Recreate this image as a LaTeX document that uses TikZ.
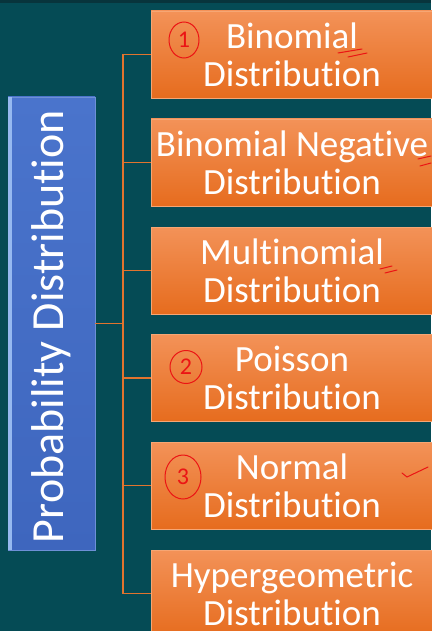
\documentclass[tikz,border=0pt]{standalone}
\usepackage{fontspec}
\setmainfont{Carlito}[Ligatures={NoCommon,NoRequired,NoContextual}]
\usetikzlibrary{shapes.geometric}
\definecolor{slidebg}{RGB}{5,75,85}
\definecolor{slidetop}{RGB}{8,52,60}
\definecolor{boxtop}{RGB}{243,146,88}
\definecolor{boxbot}{RGB}{230,108,30}
\definecolor{boxedge}{RGB}{246,166,116}
\definecolor{bluel}{RGB}{150,185,240}
\definecolor{bluefill}{RGB}{74,116,204}
\definecolor{bluebot}{RGB}{62,102,190}
\definecolor{linkcol}{RGB}{226,116,46}
\definecolor{penred}{RGB}{235,20,20}
% keeps t and i apart
\newcommand{\distword}{Distribut\kern0pt ion}
\begin{document}
\begin{tikzpicture}[x=1pt,y=-1pt,
    distbox/.style={rectangle,minimum width=282pt,minimum height=87pt,inner sep=0pt,
      top color=boxtop,bottom color=boxbot,draw=boxedge,line width=0.8pt,
      text=white,align=center,font=\fontsize{37}{38}\selectfont},
    link/.style={draw=linkcol,line width=1.5pt},
    note/.style={draw=penred,ellipse,line width=1pt,text=penred,inner sep=0pt,
      font=\fontsize{24}{24}\selectfont},
    pen/.style={draw=penred,line width=1pt,line cap=round}]
  % background
  \fill[slidebg] (0,0) rectangle (431,631);
  \fill[slidetop] (0,0) rectangle (431,3);
  \useasboundingbox (0,0) rectangle (431,631);

  \node[rectangle,minimum width=87pt,minimum height=453pt,inner sep=0pt,
    top color=bluefill,bottom color=bluebot,draw=bluefill!80!white,line width=0.8pt] (P) at (51.5,323.5) {};
  \fill[bluel] (P.north west) rectangle ([xshift=4pt]P.south west);
  \node[rotate=90,text=white,font=\fontsize{46}{46}\selectfont] at ([yshift=-3pt]P.center) {Probability \distword};

  \node[distbox] (A) at (292,54.5) {Binomial\\\distword};
  \node[distbox] (B) at (292,162.5) {Binomial Negative\\\distword};
  \node[distbox] (C) at (292,270.5) {Multinomial\\\distword};
  \node[distbox] (D) at (292,378) {Poisson\\\distword};
  \node[distbox] (E) at (292,485.5) {Normal\\\distword};
  \node[distbox] (F) at (292,593.5) {Hypergeometric\\\distword};

  \coordinate (T) at (123,323.5);

  \draw[link] (P.east) -- (T);
  \draw[link] (A.west -| T) -- (F.west -| T);
  \foreach \n in {A,B,C,D,E,F}
    \draw[link] (\n.west -| T) -- (\n.west);

  % handwritten marks
  \node[note,minimum width=30pt,minimum height=36pt] (N1) at (184,40) {1};
  \node[note,minimum width=32pt,minimum height=33pt] (N2) at (186,367) {2};
  \node[note,minimum width=36pt,minimum height=44pt] (N3) at (183,477) {3};
  \draw[pen] (338,53) -- (362,49);
  \draw[pen] (348,57) -- (367,53);
  \draw[pen] (418,159) -- (431,156);
  \draw[pen] (420,166) -- (431,163);
  \draw[pen] (380,269) -- (392,266);
  \draw[pen] (385,273) -- (397,270);
  \draw[pen] (402,473) -- (407,477) -- (428,467);
\end{tikzpicture}
\end{document}
